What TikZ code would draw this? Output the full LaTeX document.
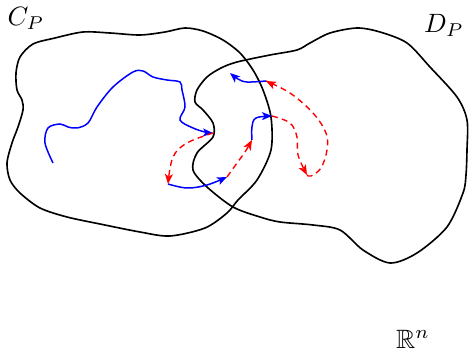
\documentclass[tikz,border=0pt]{standalone}
\usepackage{amssymb}
\usetikzlibrary{arrows.meta}
\begin{document}
\begin{tikzpicture}[x=0.4pt,y=-0.4pt,
  outline/.style={line width=0.65pt,black},
  bpath/.style={line width=0.6pt,blue,-{Stealth[length=4pt,width=3.2pt,inset=1pt]}},
  rpath/.style={line width=0.55pt,red,dash pattern=on 2.4pt off 1.7pt,-{Stealth[length=4pt,width=3.2pt,inset=1pt]}},
  lbl/.style={inner sep=0pt,scale=1.06}]
\useasboundingbox (0,0) rectangle (469,359);
% outlines
\draw[outline] plot[smooth cycle,tension=0.5] coordinates {
 (33,44) (55,38) (83,32) (110,33) (140,35) (165,32) (185,28) (203,31) (223,40)
 (240,53) (253,70) (263,90) (271,117) (271,150) (257,180) (238,200) (227,213)
 (205,228) (170,236) (140,232) (100,224) (67,217) (40,208) (20,193) (10,180) (7,163)
 (12,143) (18,127) (23,110) (22,100) (17,90) (16,73) (20,57)};
\draw[outline] plot[smooth cycle,tension=0.5] coordinates {
 (195,102) (197,90) (207,77) (221,68) (237,62) (270,55) (297,50) (310,43)
 (330,33) (357,28) (380,32) (407,43) (430,67) (457,97) (467,120) (467,150)
 (466,175) (463,193) (447,227) (417,253) (390,263) (363,250) (340,230)
 (313,225) (280,222) (260,217) (233,207) (207,187) (193,170) (197,153)
 (213,137) (213,123) (203,110)};
% junction points
\coordinate (p1) at (213,133);
\coordinate (p2) at (168,184);
\coordinate (p3) at (227,177);
\coordinate (p4) at (252,140);
\coordinate (p5) at (272,116);
\coordinate (p6) at (307,175);
\coordinate (p7) at (266,81);
\coordinate (p8) at (230,73);
\coordinate (s0) at (53,163);
% blue paths
\draw[bpath] plot[smooth,tension=0.55] coordinates {(s0) (45,143) (48,128) (60,124)
 (68,127) (77,128) (88,123) (97,107) (113,87) (133,72) (143,71) (153,77) (167,80)
 (180,82) (182,90) (185,107) (180,120) (193,128) (205,132) (p1)};
\draw[bpath] plot[smooth,tension=0.6] coordinates {(p2) (187,188) (207,185) (p3)};
\draw[bpath] plot[smooth,tension=0.6] coordinates {(p4) (252,127) (256,118) (p5)};
\draw[bpath] plot[smooth,tension=0.6] coordinates {(p7) (247,82) (238,79) (p8)};
% red dashed paths
\draw[rpath] plot[smooth,tension=0.6] coordinates {(p1) (187,143) (173,157) (p2)};
\draw[rpath] plot[smooth,tension=0.6] coordinates {(p3) (237,163) (245,152) (p4)};
\draw[rpath] plot[smooth,tension=0.6] coordinates {(p5) (290,123) (297,137) (298,155) (p6)};
\draw[red,line width=0.55pt,dash pattern=on 2.4pt off 1.7pt] plot[smooth,tension=0.6] coordinates {(p6) (311,176) (321,168) (327,150) (326,133) (313,113) (290,93) (p7)};
\draw[red,line width=0.55pt,-{Stealth[length=4pt,width=3.2pt,inset=1pt]}] (270,83) -- (p7);
% labels
\node[lbl] (cp) at (26,18) {$C_P$};
\node[lbl] (dp) at (444,25) {$D_P$};
\node[lbl] (rn) at (413,339) {$\mathbb{R}^n$};
\end{tikzpicture}
\end{document}
